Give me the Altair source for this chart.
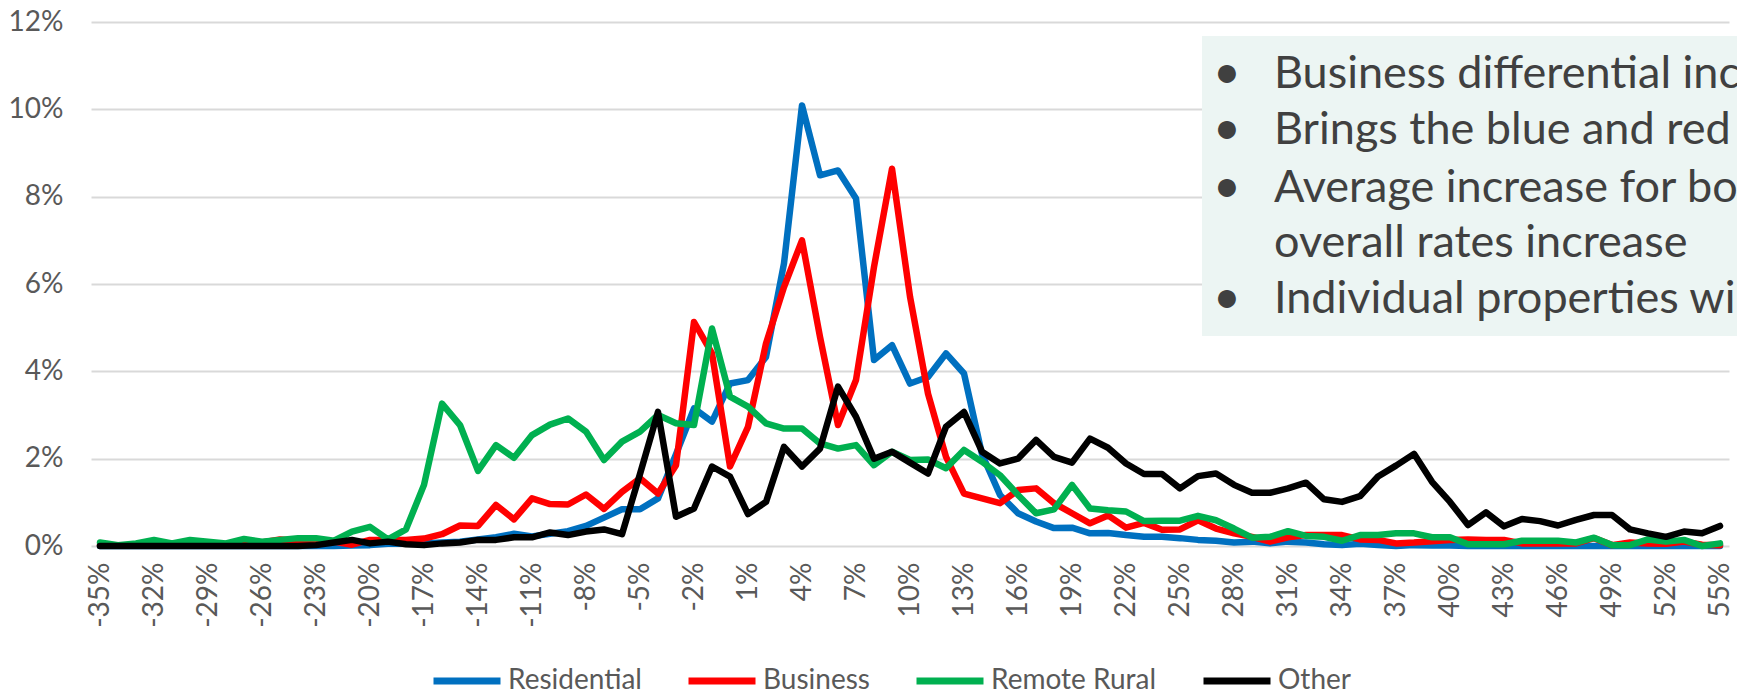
import altair as alt
import pandas as pd

# ---------------- data ----------------
x_pct = list(range(-35, 56))            # categories (percent change)
tick_values = list(range(-35, 56, 3))   # labelled categories
y_ticks = [0, 2, 4, 6, 8, 10, 12]

series_names = ["Residential", "Business", "Remote Rural", "Other"]
series_colors = ["#0070C0", "#FF0000", "#00B050", "#000000"]

residential = [
    0, 0, 0, 0, 0, 0, 0, 0, 0, 0, 0, 0, 0, 0,            # -35..-22
    0.01, 0.02, 0.05, 0.05, 0.06, 0.08, 0.10, 0.15, 0.20, 0.28,   # -21..-12
    0.22, 0.28, 0.34, 0.46, 0.65, 0.84, 0.84, 1.09, 2.10, 3.15,   # -11..-2
    2.85, 3.72, 3.80, 4.33, 6.47, 10.09, 8.49, 8.60, 7.96, 4.26,  # -1..8
    4.60, 3.72, 3.87, 4.41, 3.95, 2.10, 1.17, 0.75, 0.56, 0.41,   # 9..18
    0.42, 0.29, 0.30, 0.25, 0.21, 0.21, 0.18, 0.14, 0.12, 0.08,   # 19..28
    0.10, 0.06, 0.10, 0.08, 0.04, 0.02, 0.05, 0.02, 0.00, 0.02,   # 29..38
    0.01, 0.01, 0, 0, 0, 0, 0, 0, 0, 0, 0, 0, 0, 0, 0, 0, 0,      # 39..55
]
business = [
    0.02, 0.02, 0.02, 0.03, 0.03, 0.03, 0.03, 0.03, 0.05, 0.08,   # -35..-26
    0.15, 0.12, 0.12, 0.10, 0.03, 0.14, 0.14, 0.14, 0.17, 0.27,   # -25..-16
    0.47, 0.46, 0.94, 0.61, 1.09, 0.96, 0.95, 1.18, 0.85, 1.24,   # -15..-6
    1.55, 1.20, 1.85, 5.13, 4.41, 1.82, 2.73, 4.64, 5.93, 7.00,   # -5..4
    4.79, 2.77, 3.80, 6.39, 8.64, 5.71, 3.49, 2.04, 1.20, 1.09,   # 5..14
    0.98, 1.28, 1.32, 0.98, 0.75, 0.52, 0.70, 0.42, 0.53, 0.37,   # 15..24
    0.38, 0.59, 0.40, 0.29, 0.21, 0.10, 0.20, 0.25, 0.25, 0.25,   # 25..34
    0.15, 0.14, 0.06, 0.08, 0.11, 0.14, 0.15, 0.14, 0.14, 0.06,   # 35..44
    0.06, 0.06, 0.06, 0.18, 0.02, 0.08, 0.06, 0.05, 0.10, 0.03,   # 45..54
    0.02,                                                         # 55
]
remote_rural = [
    0.08, 0.02, 0.06, 0.14, 0.06, 0.14, 0.10, 0.06, 0.16, 0.10,   # -35..-26
    0.14, 0.18, 0.18, 0.12, 0.33, 0.44, 0.15, 0.38, 1.40, 3.26,   # -25..-16
    2.77, 1.72, 2.31, 2.02, 2.54, 2.78, 2.92, 2.62, 1.97, 2.39,   # -15..-6
    2.62, 3.00, 2.81, 2.77, 4.98, 3.42, 3.19, 2.81, 2.69, 2.69,   # -5..4
    2.35, 2.23, 2.31, 1.85, 2.16, 1.97, 1.98, 1.78, 2.20, 1.93,   # 5..14
    1.62, 1.17, 0.75, 0.84, 1.40, 0.86, 0.82, 0.79, 0.57, 0.58,   # 15..24
    0.58, 0.69, 0.59, 0.40, 0.19, 0.21, 0.34, 0.23, 0.21, 0.12,   # 25..34
    0.25, 0.25, 0.29, 0.29, 0.20, 0.20, 0.04, 0.04, 0.04, 0.12,   # 35..44
    0.12, 0.12, 0.08, 0.19, 0.02, 0.02, 0.15, 0.10, 0.14, 0.00,   # 45..54
    0.06,                                                         # 55
]
other = [
    0, 0, 0, 0, 0, 0, 0, 0, 0, 0, 0, 0,                           # -35..-24
    0.02, 0.08, 0.14, 0.06, 0.10, 0.04, 0.02, 0.06, 0.08, 0.14,   # -23..-14
    0.14, 0.20, 0.20, 0.31, 0.25, 0.33, 0.38, 0.27, 1.65, 3.07,   # -13..-4
    0.67, 0.86, 1.82, 1.59, 0.73, 1.01, 2.27, 1.82, 2.23, 3.65,   # -3..6
    2.96, 2.00, 2.16, 1.91, 1.66, 2.73, 3.07, 2.16, 1.89, 2.00,   # 7..16
    2.43, 2.04, 1.91, 2.46, 2.25, 1.89, 1.65, 1.65, 1.32, 1.60,   # 17..26
    1.66, 1.40, 1.22, 1.22, 1.32, 1.45, 1.07, 1.01, 1.14, 1.59,   # 27..36
    1.84, 2.11, 1.47, 1.01, 0.48, 0.77, 0.45, 0.62, 0.57, 0.47,   # 37..46
    0.60, 0.71, 0.71, 0.38, 0.29, 0.21, 0.33, 0.29, 0.46,         # 47..55
]

note_lines = [
    "Business differential inc",
    "Brings the blue and red c",
    "Average increase for bot",
    "overall rates increase",
    "Individual properties wi",
]
note_bullets = [True, True, True, False, True]

all_series = [residential, business, remote_rural, other]
for s in all_series:
    assert len(s) == len(x_pct), len(s)

rows = []
for name, vals in zip(series_names, all_series):
    for p, v in zip(x_pct, vals):
        rows.append({"pct": p, "value": v, "series": name})
df = pd.DataFrame(rows)

# ---------------- styling ----------------
FONT = "Lato"
LABEL_COLOR = "#595959"
W, H = 1638, 524

color = alt.Color(
    "series:N",
    scale=alt.Scale(domain=series_names, range=series_colors),
    legend=alt.Legend(
        title=None, orient="none", legendX=339, legendY=622, direction="horizontal",
        symbolType="stroke", symbolSize=4489, symbolStrokeWidth=7,
        labelFontSize=28, labelFont=FONT, labelColor=LABEL_COLOR, labelLimit=400,
        columnPadding=32, labelOffset=4, padding=0,
    ),
)
x = alt.X(
    "pct:O",
    scale=alt.Scale(type="point", padding=0.5, domain=x_pct),
    axis=alt.Axis(
        values=tick_values, labelExpr="datum.value + '%'", labelAngle=270,
        labelFontSize=28, labelFont=FONT, labelColor=LABEL_COLOR, labelPadding=16,
        domain=False, ticks=False, grid=False, title=None,
    ),
)
y = alt.Y(
    "value:Q",
    scale=alt.Scale(domain=[0, 12], nice=False),
    axis=alt.Axis(
        values=y_ticks, labelExpr="datum.value + '%'",
        labelFontSize=28, labelFont=FONT, labelColor=LABEL_COLOR, labelPadding=28,
        grid=True, gridColor="#D9D9D9", gridWidth=2,
        domain=False, ticks=False, title=None,
    ),
)

base = alt.Chart(df)
line_layers = [
    base.transform_filter(alt.datum.series == name)
    .mark_line(strokeWidth=6.5, strokeCap="round", strokeJoin="round")
    .encode(x=x, y=y, color=color)
    for name in series_names
]

one = alt.Data(values=[{}])
box = alt.Chart(one).mark_rect(color="#ECF5F3").encode(
    x=alt.value(1111), x2=alt.value(1646), y=alt.value(14), y2=alt.value(314)
)

text_layers = []
baselines = [66, 122, 180, 235, 291]
for line, bullet, yb in zip(note_lines, note_bullets, baselines):
    text_layers.append(
        alt.Chart(one).mark_text(
            text=line, align="left", baseline="alphabetic", font=FONT,
            fontSize=45, color="#404040",
        ).encode(x=alt.value(1183), y=alt.value(yb))
    )
    if bullet:
        text_layers.append(
            alt.Chart(one).mark_text(
                text="\u2022", align="center", baseline="alphabetic", font=FONT,
                fontSize=48, color="#404040",
            ).encode(x=alt.value(1136), y=alt.value(yb))
        )

chart = (
    alt.layer(box, *line_layers, *text_layers)
    .properties(
        width=W, height=H,
        autosize=alt.AutoSizeParams(type="none"),
        padding={"left": 91, "top": 22, "right": 8, "bottom": 146},
        background="white",
    )
    .configure_view(strokeWidth=0)
)

chart.save("out.html", embed_options={"renderer": "svg", "actions": False})
